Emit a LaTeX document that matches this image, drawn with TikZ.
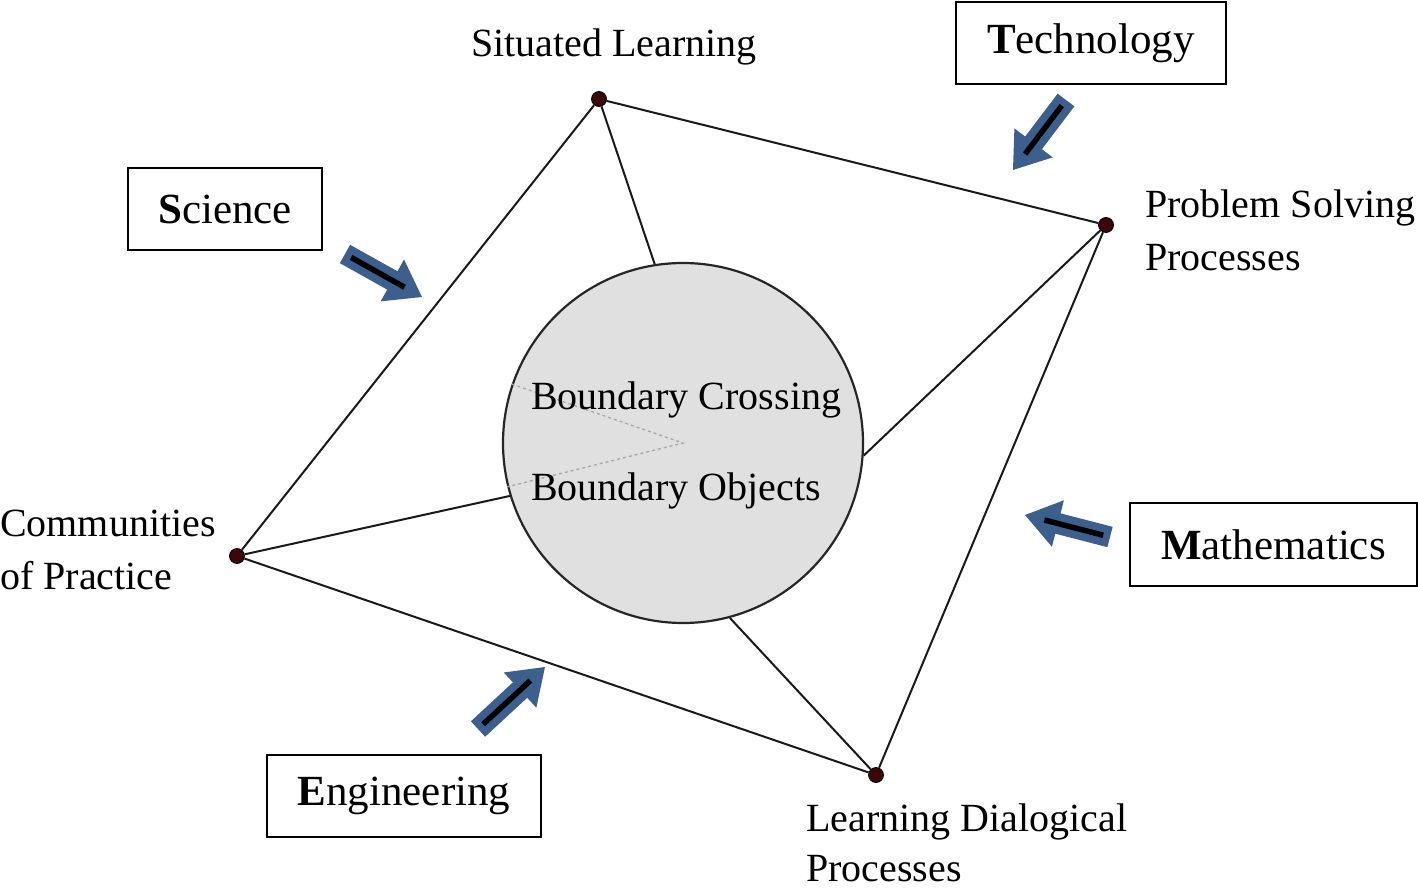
\documentclass[tikz,border=0pt]{standalone}
\usepackage{fontspec}
\setmainfont{Liberation Serif}
\usetikzlibrary{calc}
\definecolor{arrowblue}{HTML}{3D5F8E}
\definecolor{dotred}{HTML}{3A0808}
\definecolor{circfill}{HTML}{E0E0E0}
\newcommand{\fatarrow}[2]{%
  \coordinate (H) at ($(#2)!34pt!(#1)$);
  \fill[arrowblue] ($(#1)!10.5pt!90:(#2)$) -- ($(H)!10.5pt!-90:(#1)$) -- ($(H)!24pt!-90:(#1)$) -- (#2)
     -- ($(H)!24pt!90:(#1)$) -- ($(H)!10.5pt!90:(#1)$) -- ($(#1)!10.5pt!-90:(#2)$) -- cycle;
  \draw[line width=5.5pt] ($(#1)!7pt!(#2)$) -- ($(#2)!20pt!(#1)$);
}
\begin{document}
\begin{tikzpicture}[x=1pt,y=-1pt,
  lbl/.style={font=\fontsize{40}{53}\selectfont, inner sep=0pt, align=left},
  boxlbl/.style={draw, line width=2.8pt, font=\fontsize{43}{50}\selectfont, inner sep=0pt},
  dot/.style={circle, fill=dotred, draw=black, line width=0.8pt, minimum size=15pt, inner sep=0pt},
  edge/.style={line width=2pt, black!90}]
\useasboundingbox (0,0) rectangle (1418,893);
% central circle
\node[circle, fill=circfill, draw=black!85, line width=2.2pt, minimum size=360pt, inner sep=0pt] (C) at (683,443) {};
\draw[dashed, gray!70, line width=1.3pt] (C.161) -- (C.center) -- (C.194.5);
\node[lbl, anchor=base west] (bc) at (531,409) {Boundary Crossing};
\node[lbl, anchor=base west] (bo) at (531,500) {Boundary Objects};
% dots
\node[dot] (SL) at (599,99) {};
\node[dot] (PS) at (1106,225) {};
\node[dot] (LD) at (876,775) {};
\node[dot] (CP) at (237,556) {};
% edges
\draw[edge] (SL) -- (PS);
\draw[edge] (PS) -- (LD);
\draw[edge] (LD) -- (CP);
\draw[edge] (CP) -- (SL);
\draw[edge] (SL) -- (C.99.9);
\draw[edge] (PS) -- (C.-4.4);
\draw[edge] (LD) -- (C.-75.2);
\draw[edge] (CP) -- (C.197.5);
% labels
\node[lbl, anchor=base] (tSL) at (614,57) {Situated Learning};
\node[lbl, anchor=north west] (tPS) at (1145,190) {Problem Solving\\Processes};
\node[lbl, anchor=north west] (tCP) at (0,510) {Communities\\of Practice};
\node[lbl, anchor=north west, font=\fontsize{40}{50}\selectfont] (tLD) at (806,804) {Learning Dialogical\\Processes};
% boxes
\node[boxlbl, minimum width=270pt, minimum height=82pt] (tech) at (1091,43) {\textbf{T}echnology};
\node[boxlbl, minimum width=194pt, minimum height=82pt] (sci) at (225,209) {\textbf{S}cience};
\node[boxlbl, minimum width=287pt, minimum height=83pt] (math) at (1273.5,544.5) {\textbf{M}athematics};
\node[boxlbl, minimum width=274pt, minimum height=82pt] (eng) at (404,796) {\textbf{E}ngineering};
% block arrows
\coordinate (sa1) at (345,254); \coordinate (sa2) at (422,297);
\coordinate (ta1) at (1066,100); \coordinate (ta2) at (1013,170);
\coordinate (ma1) at (1110,537); \coordinate (ma2) at (1025,515);
\coordinate (ea1) at (478,729); \coordinate (ea2) at (545,667);
\fatarrow{sa1}{sa2}
\fatarrow{ta1}{ta2}
\fatarrow{ma1}{ma2}
\fatarrow{ea1}{ea2}
\end{tikzpicture}
\end{document}
